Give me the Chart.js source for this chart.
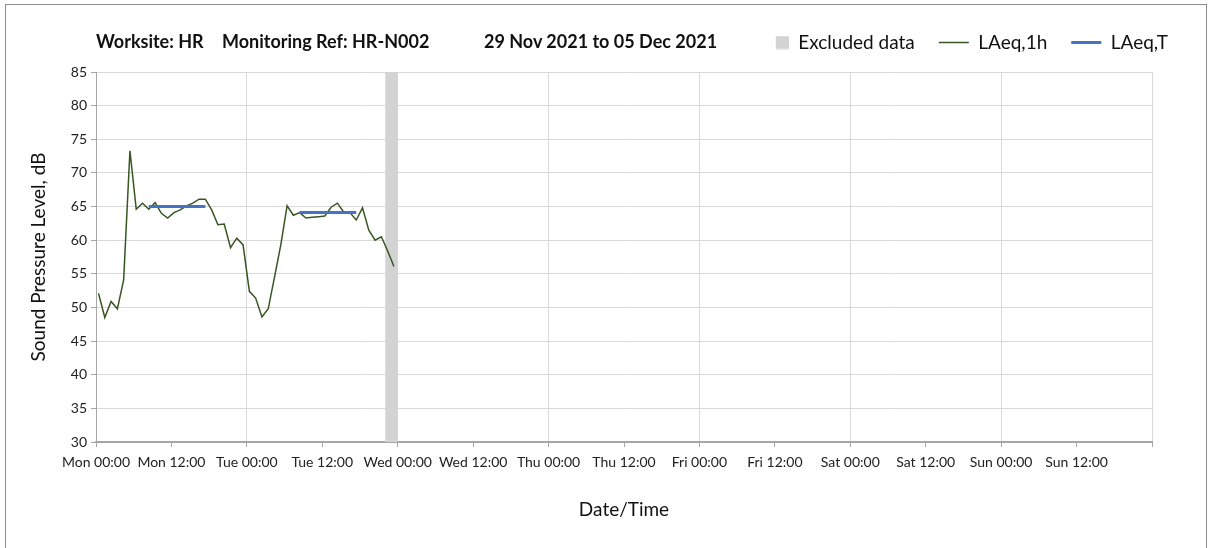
<!DOCTYPE html>
<html>
<head>
<meta charset="utf-8">
<title>HR-N002 noise monitoring</title>
<script src="https://cdn.jsdelivr.net/npm/chart.js@4.4.1/dist/chart.umd.min.js"></script>
<style>
  html, body { margin: 0; padding: 0; background: #fff; }
  #wrap { position: relative; width: 1208px; height: 548px; overflow: hidden; }
  #frame { position: absolute; left: 5px; top: 4px; width: 1202px; height: 600px;
           border: 1px solid #8c8c8c; box-sizing: border-box; }
  #chart { position: absolute; left: 0; top: 0; }
  .ttl { position: absolute; top: 30px; font: bold 18px Lato, sans-serif; color: #111; white-space: nowrap; }
</style>
</head>
<body>
<div id="wrap">
  <div id="frame"></div>
  <canvas id="chart" width="1208" height="548"></canvas>
  <span class="ttl" style="left:96px">Worksite: HR</span>
  <span class="ttl" style="left:222px">Monitoring Ref: HR-N002</span>
  <span class="ttl" style="left:484px">29 Nov 2021 to 05 Dec 2021</span>
</div>

<script>
/* ================================================
   DATA
================================================ */
// x axis runs in hours from Mon 00:00, one label per 12 h
const tickLabels = ['Mon 00:00','Mon 12:00','Tue 00:00','Tue 12:00','Wed 00:00','Wed 12:00',
                    'Thu 00:00','Thu 12:00','Fri 00:00','Fri 12:00','Sat 00:00','Sat 12:00',
                    'Sun 00:00','Sun 12:00'];
const weekHours = 168;

// hourly LAeq,1h (dB), first value at Mon 00:24
const firstHour = 0.4;
const lAeq1h = [52.1, 48.5, 50.9, 49.8, 54.1, 73.3, 64.6, 65.5, 64.6, 65.6, 64.0, 63.3,
                64.1, 64.5, 65.1, 65.5, 66.1, 66.1, 64.5, 62.3, 62.4, 58.9, 60.3, 59.3,
                52.4, 51.4, 48.6, 49.8, 54.5, 59.3, 65.1, 63.7, 64.1, 63.3, 63.4, 63.5,
                63.6, 64.9, 65.5, 64.2, 64.1, 63.0, 64.8, 61.5, 60.0, 60.5, 58.4, 56.1];

// LAeq,T day periods
const ltStart = [8.4, 32.4];
const ltEnd   = [17.4, 41.4];
const ltValue = [65.0, 64.1];

// excluded periods (hours)
const exclStart = [46];
const exclEnd   = [48];

const yMin = 30, yMax = 85;

/* ================================================
   BUILD SERIES
================================================ */
const hourlyPts = lAeq1h.map((v, i) => ({ x: firstHour + i, y: v }));

const periodPts = [];
ltStart.forEach((s, i) => {
  if (i > 0) periodPts.push({ x: (ltEnd[i - 1] + s) / 2, y: null });
  periodPts.push({ x: s, y: ltValue[i] }, { x: ltEnd[i], y: ltValue[i] });
});

const exclPts = [];
exclStart.forEach((s, i) => {
  if (i > 0) exclPts.push({ x: (exclEnd[i - 1] + s) / 2, y: null });
  exclPts.push({ x: s, y: yMax }, { x: exclEnd[i], y: yMax });
});

// legend swatch for the excluded band
function swatch(w, h, fill, x0, rectW, rectH) {
  const c = document.createElement('canvas');
  c.width = w; c.height = h;
  const g = c.getContext('2d');
  g.fillStyle = fill;
  g.fillRect(x0, (h - rectH) / 2, rectW, rectH);
  return c;
}
const greySwatch = swatch(30, 14, '#d3d3d3', 17, 13, 13);

// legend shares the title row, so lift it a little above its layout slot
const legendLift = {
  id: 'legendLift',
  afterLayout(chart) {
    if (!chart.legend) return;
    chart.legend.top -= 10;
    chart.legend.bottom -= 10;
  },
};

const FONT = 'Lato, "Open Sans", sans-serif';
const AXIS = '#a6a6a6';
const GRID = '#d9d9d9';

/* ================================================
   CHART
================================================ */
new Chart(document.getElementById('chart'), {
  type: 'line',
  data: {
    datasets: [
      {
        label: 'Excluded data',
        data: exclPts,
        borderWidth: 0,
        borderColor: 'rgba(0,0,0,0)',
        backgroundColor: '#d3d3d3',
        fill: 'start',
        pointRadius: 0,
        pointStyle: greySwatch,
        order: 3,
      },
      {
        label: 'LAeq,1h',
        data: hourlyPts,
        borderColor: '#375623',
        backgroundColor: '#375623',
        borderWidth: 1.5,
        pointRadius: 0,
        pointStyle: 'line',
        tension: 0,
        order: 2,
      },
      {
        label: 'LAeq,T',
        data: periodPts,
        borderColor: '#4472c4',
        backgroundColor: '#4472c4',
        borderWidth: 3,
        pointRadius: 0,
        pointStyle: 'line',
        spanGaps: false,
        order: 1,
      },
    ],
  },
  options: {
    responsive: false,
    animation: false,
    layout: { padding: { top: 9, left: 20, right: 16, bottom: 26 } },
    plugins: {
      legend: {
        position: 'top',
        align: 'end',
        labels: {
          usePointStyle: true,
          pointStyleWidth: 30,
          padding: 24,
          color: '#111',
          font: { family: FONT, size: 19 },
          sort: (a, b) => a.datasetIndex - b.datasetIndex,
        },
      },
      tooltip: { enabled: false },
    },
    scales: {
      x: {
        type: 'linear',
        min: 0,
        max: weekHours,
        afterFit: s => { s.height = 80; s.paddingRight = 56; },
        ticks: {
          stepSize: 12,
          autoSkip: false,
          maxRotation: 0,
          padding: 7,
          color: '#222',
          font: { family: FONT, size: 14 },
          callback: v => tickLabels[v / 12] ?? '',
        },
        grid: {
          color: c => (c.tick && c.tick.value % 24 === 0) ? GRID : 'rgba(0,0,0,0)',
          tickColor: AXIS,
          tickLength: 5,
        },
        border: { color: AXIS, width: 2 },
        title: {
          display: true,
          text: 'Date/Time',
          color: '#111',
          font: { family: FONT, size: 19 },
          padding: { top: 0, bottom: 1 },
        },
      },
      y: {
        min: yMin,
        max: yMax,
        afterFit: s => { s.width = 76; s.paddingTop = 72; },
        ticks: {
          stepSize: 5,
          padding: 4,
          color: '#222',
          font: { family: FONT, size: 14 },
        },
        grid: { color: GRID, tickColor: AXIS, tickLength: 5 },
        border: { color: AXIS, width: 1 },
        title: {
          display: true,
          text: 'Sound Pressure Level, dB',
          color: '#111',
          font: { family: FONT, size: 19 },
          padding: { top: 7, bottom: 0 },
        },
      },
    },
  },
  plugins: [legendLift],
});
</script>
</body>
</html>
